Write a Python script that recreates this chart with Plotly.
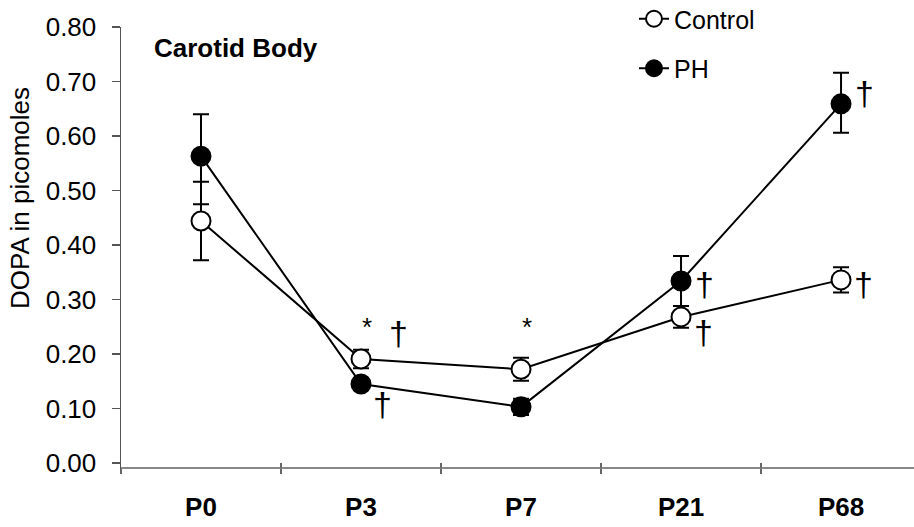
import plotly.graph_objects as go

# ---- data ----
categories = ["P0", "P3", "P7", "P21", "P68"]
control_mean = [0.444, 0.191, 0.172, 0.268, 0.336]
control_err = [0.072, 0.017, 0.021, 0.020, 0.023]
ph_mean = [0.563, 0.145, 0.103, 0.334, 0.659]
ph_err_up = [0.077, 0.010, 0.015, 0.046, 0.057]
ph_err_down = [0.088, 0.010, 0.015, 0.046, 0.053]
y_ticks = [0.0, 0.1, 0.2, 0.3, 0.4, 0.5, 0.6, 0.7, 0.8]

# significance marks: category, series, symbol
sig_category = ["P3", "P3", "P3", "P7", "P21", "P21", "P68", "P68"]
sig_series = ["Control", "Control", "PH", "Control", "PH", "Control", "Control", "PH"]
sig_symbol = ["*", "\u2020", "\u2020", "*", "\u2020", "\u2020", "\u2020", "\u2020"]

# ---- styling / placement ----
FONT = "Liberation Sans, Arial, Helvetica, sans-serif"
sig_shift = [(6, 32), (37, 26), (21, -20), (6, 42), (23, -3), (22, -15), (22, -4), (23, 11)]
sig_size = {"*": 26, "\u2020": 34}

W, H = 914, 527
ML, MR, MT, MB = 121, 0, 27, 54
plot_h = H - MT - MB
plot_w = W - ML - MR
y_min = -10 / ((463 - MT) / 0.8)

fig = go.Figure()

fig.add_trace(go.Scatter(
    x=categories, y=control_mean, name="Control", mode="lines+markers",
    legendgroup="c",
    line=dict(color="black", width=2),
    marker=dict(symbol="circle", size=19, color="white", line=dict(color="black", width=2)),
    error_y=dict(type="data", array=control_err, color="black", thickness=2, width=8),
))
fig.add_trace(go.Scatter(
    x=categories, y=ph_mean, name="PH", mode="lines+markers",
    legendgroup="p",
    line=dict(color="black", width=2),
    marker=dict(symbol="circle", size=19, color="black", line=dict(color="black", width=2)),
    error_y=dict(type="data", symmetric=False, array=ph_err_up, arrayminus=ph_err_down,
                 color="black", thickness=2, width=8),
))
# helper (empty) trace so the overlay axis used for crossing tick marks is drawn
fig.add_trace(go.Scatter(x=[None], y=[None], xaxis="x2", showlegend=False, hoverinfo="skip"))

series_vals = {"Control": control_mean, "PH": ph_mean}
annotations = []
for cat, ser, sym, (dx, dy) in zip(sig_category, sig_series, sig_symbol, sig_shift):
    yv = series_vals[ser][categories.index(cat)]
    annotations.append(dict(x=cat, y=yv, xref="x", yref="y", text=sym, showarrow=False,
                            xshift=dx, yshift=dy,
                            font=dict(family=FONT, size=sig_size[sym], color="black")))

annotations.append(dict(x=(152 - ML) / plot_w, y=(H - MB - 48) / plot_h,
                        xref="paper", yref="paper", xanchor="left", yanchor="middle",
                        text="<b>Carotid Body</b>", showarrow=False,
                        font=dict(family=FONT, size=26, color="black")))
annotations.append(dict(x=(20 - ML) / plot_w, y=(H - MB - 198) / plot_h,
                        xref="paper", yref="paper", xanchor="center", yanchor="middle",
                        text="DOPA in picomoles", textangle=-90, showarrow=False,
                        font=dict(family=FONT, size=26, color="black")))

x_pos = 5 / plot_h
fig.update_layout(
    template="none",
    width=W, height=H,
    margin=dict(l=ML, r=MR, t=MT, b=MB, pad=0, autoexpand=False),
    paper_bgcolor="white", plot_bgcolor="white",
    font=dict(family=FONT, size=26, color="black"),
    showlegend=True,
    legend=dict(x=(634 - ML) / plot_w, y=1 + (MT + 4) / plot_h, xanchor="left", yanchor="top",
                bgcolor="rgba(0,0,0,0)", font=dict(family=FONT, size=25, color="black"),
                tracegroupgap=14, traceorder="grouped"),
    xaxis=dict(
        type="category", categoryorder="array", categoryarray=categories,
        range=[-0.5, 4.456], anchor="free", position=x_pos, automargin=False,
        showline=True, linecolor="#888888", linewidth=2,
        ticks="outside", tickson="boundaries", ticklen=5, tickcolor="#666666", tickwidth=1.5,
        tickfont=dict(family=FONT, size=26, color="black", weight="bold"),
        ticklabelstandoff=16,
        showgrid=False, zeroline=False,
    ),
    xaxis2=dict(
        overlaying="x", anchor="free", position=x_pos, range=[-0.5, 4.456], automargin=False,
        tickmode="array", tickvals=[0.5, 1.5, 2.5, 3.5], ticks="inside", ticklen=5,
        tickcolor="#666666", tickwidth=1.5, showticklabels=False, showline=False,
        showgrid=False, zeroline=False,
    ),
    yaxis=dict(
        range=[y_min, 0.8], tickmode="array", tickvals=y_ticks, tickformat=".2f",
        automargin=False,
        showline=True, linecolor="#555555", linewidth=1.5,
        ticks="outside", ticklen=8, tickcolor="#555555", tickwidth=1.5,
        tickfont=dict(family=FONT, size=26, color="black"),
        ticklabelstandoff=10,
        showgrid=False, zeroline=False,
    ),
    annotations=annotations,
)

fig.write_html("out.html", config={"displayModeBar": False, "staticPlot": True},
               post_script="document.body.style.margin='0';document.body.style.overflow='hidden';")
